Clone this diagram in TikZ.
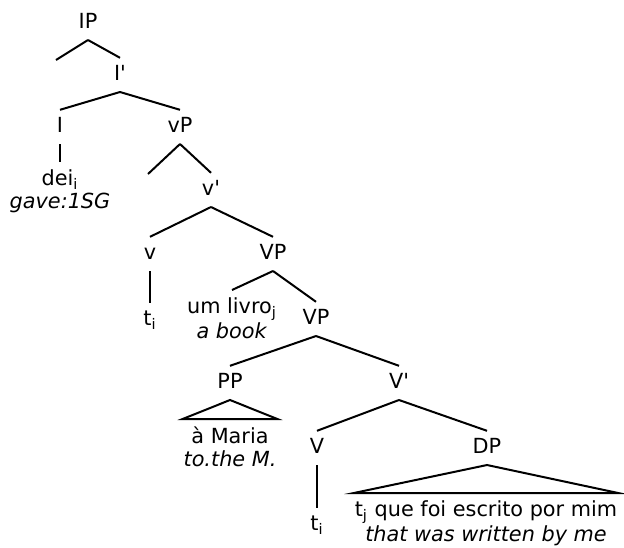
\documentclass[tikz,border=0pt]{standalone}
\usepackage{fontspec}
\usepackage{tikz}
\newfontfamily\arbre{DejaVu Sans}

\begin{document}
\begin{tikzpicture}[x=0.5pt, y=-0.5pt, line width=1pt,
    font=\arbre\fontsize{10.4}{11.5}\selectfont,
    cat/.style={inner sep=0pt, inner ysep=3pt, text height=7.6pt, text depth=2.5pt, anchor=base},
    feuille/.style={inner sep=0pt, inner ysep=3.5pt, anchor=north, align=center}]
  \useasboundingbox (0, 0) rectangle (624, 547);

  % Categories
  \node[cat] (IP) at (88, 28) {IP};
  \node[cat] (Ibar) at (120, 80) {I'};
  \node[cat] (I) at (60, 132) {I};
  \node[cat] (vP) at (180, 132) {vP};
  \node[cat] (vbar) at (211, 195) {v'};
  \node[cat] (v) at (150, 259) {v};
  \node[cat] (VP) at (273, 259) {VP};
  \node[cat] (VPb) at (316, 324) {VP};
  \node[cat] (PP) at (230, 388) {PP};
  \node[cat] (Vbar) at (399, 388) {V'};
  \node[cat] (V) at (317, 453) {V};
  \node[cat] (DP) at (487, 453) {DP};
  \coordinate (specIP) at (56, 60);
  \coordinate (specvP) at (148, 174);

  % Feuilles
  \node[feuille] (dei) at (60, 162) {dei\textsubscript{i}\\\textit{gave:1SG}};
  \node[feuille] (ti1) at (150, 303) {t\textsubscript{i}};
  \node[feuille] (livro) at (232, 290) {um livro\textsubscript{j}\\\textit{a book}};
  \node[feuille] (maria) at (230, 419) {à Maria\\\textit{to.the M.}};
  \node[feuille] (ti2) at (317, 508) {t\textsubscript{i}};
  \node[feuille] (rel) at (486, 493) {t\textsubscript{j} que foi escrito por mim\\\textit{that was written by me}};

  % Branches
  \draw (IP.south) -- (specIP);
  \draw (IP.south) -- (Ibar.north);
  \draw (Ibar.south) -- (I.north);
  \draw (Ibar.south) -- (vP.north);
  \draw (I.south) -- (dei.north);
  \draw (vP.south) -- (specvP);
  \draw (vP.south) -- (vbar.north);
  \draw (vbar.south) -- (v.north);
  \draw (vbar.south) -- (VP.north);
  \draw (v.south) -- (ti1.north);
  \draw (VP.south) -- (livro.north);
  \draw (VP.south) -- (VPb.north);
  \draw (VPb.south) -- (PP.north);
  \draw (VPb.south) -- (Vbar.north);
  \draw (PP.south) -- (maria.north west) -- (maria.north east) -- cycle;
  \draw (Vbar.south) -- (V.north);
  \draw (Vbar.south) -- (DP.north);
  \draw (V.south) -- (ti2.north);
  \draw (DP.south) -- (rel.north west) -- (rel.north east) -- cycle;
\end{tikzpicture}
\end{document}
